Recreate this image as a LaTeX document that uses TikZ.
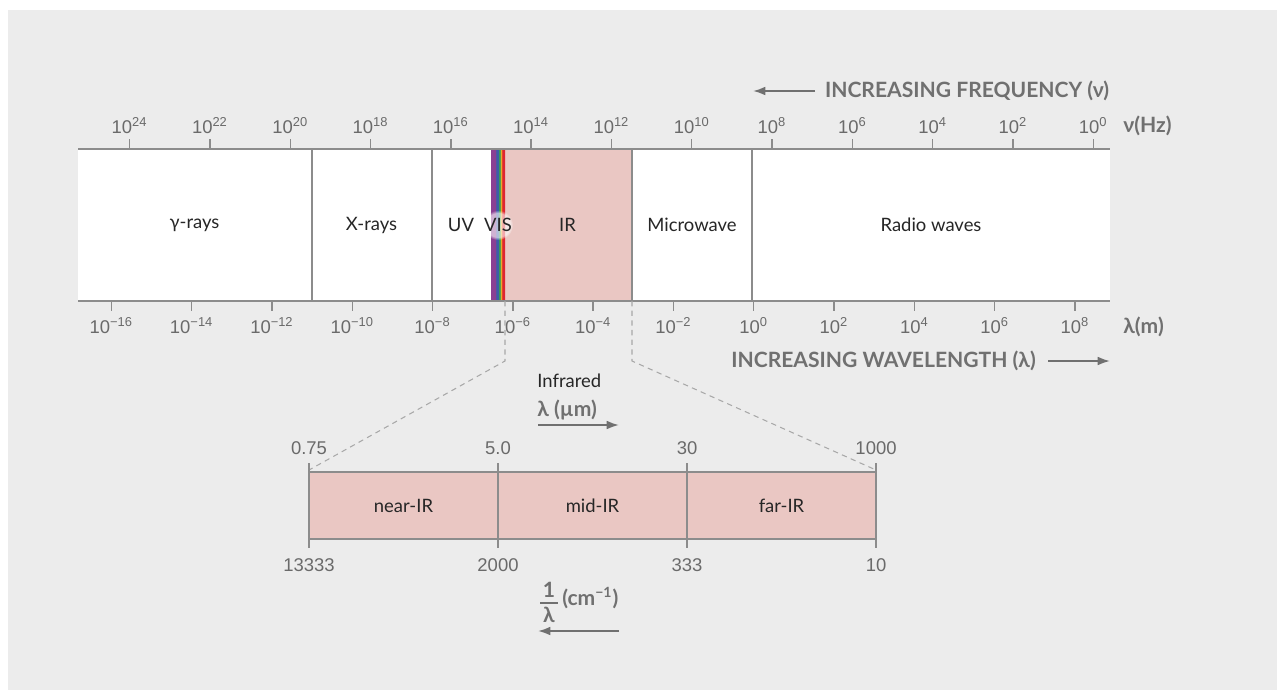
\documentclass[tikz,border=0pt]{standalone}
\usepackage{fontspec}
\setmainfont{Lato}
\newfontfamily\numfont{Liberation Sans}
\usetikzlibrary{arrows.meta,fadings}

\definecolor{bggray}{HTML}{ECECEC}
\definecolor{linegray}{HTML}{8C8C8C}
\definecolor{numgray}{HTML}{6A6A6A}
\definecolor{headgray}{HTML}{707070}
\definecolor{dashgray}{HTML}{A8A8A8}
\definecolor{txtdark}{HTML}{262626}
\definecolor{irpink}{HTML}{EAC7C3}
\definecolor{vispurple}{HTML}{8A3F93}
\definecolor{visblue}{HTML}{3C5CA8}
\definecolor{visgreen}{HTML}{3A9A55}
\definecolor{visyellow}{HTML}{EDC72C}
\definecolor{visorange}{HTML}{E8782C}
\definecolor{visred}{HTML}{DE2630}

\pgfdeclarehorizontalshading{visspec}{100bp}{color(0bp)=(vispurple); color(25bp)=(vispurple);
  color(38bp)=(vispurple); color(43bp)=(visblue); color(49bp)=(visblue); color(53bp)=(visgreen);
  color(56bp)=(visgreen); color(59bp)=(visyellow); color(62bp)=(visorange); color(65bp)=(visred);
  color(75bp)=(visred); color(100bp)=(visred)}

\newcommand{\pw}[1]{10\textsuperscript{#1}}

\tikzset{
  gline/.style={draw=linegray, line width=0.8pt},
  dline/.style={draw=dashgray, line width=0.6pt, dash pattern=on 3pt off 2.5pt},
  garrow/.style={draw=headgray, line width=1.1pt, -{Latex[length=7pt,width=5pt]}},
  numlbl/.style={font=\numfont\fontsize{10.5}{12}\selectfont, text=numgray, inner sep=0pt},
  bandlbl/.style={font=\fontsize{10.5}{12}\selectfont, text=txtdark, inner sep=0pt},
  headlbl/.style={font=\bfseries\fontsize{12}{14}\selectfont, text=headgray, inner sep=0pt},
}

\begin{document}
\begin{tikzpicture}[x=0.02cm,y=-0.02cm]
  \useasboundingbox (0,0) rectangle (1277,690);
  \fill[white] (0,0) rectangle (1277,690);
  \fill[bggray] (8,10) rectangle (1277,690);

  % spectrum band
  \fill[white] (78,149) rectangle (1110,301);
  \fill[irpink] (505,149) rectangle (632,301);
  \shade[shading=visspec] (491.5,149) rectangle (505,301);
  \foreach \x in {312,432,632,752}
    \draw[gline] (\x,149) -- (\x,301);
  \draw[gline] (78,149) -- (1110,149);
  \draw[gline] (78,301) -- (1110,301);

  % frequency scale
  \foreach \e [count=\i from 0] in {24,22,...,0} {
    \draw[gline] ({129.6+80.3*\i},139) -- ({129.6+80.3*\i},149);
    \node[numlbl] (f\i) at ({129.6+80.3*\i},126) {\pw{\e}};
  }
  \node[headlbl, anchor=west] (nuhz) at (1123,126) {ν(Hz)};

  % wavelength scale
  \foreach \e [count=\i from 0] in {−16,−14,−12,−10,−8,−6,−4,−2,0,2,4,6,8} {
    \draw[gline] ({111.3+80.3*\i},301) -- ({111.3+80.3*\i},311);
    \node[numlbl] (w\i) at ({111.3+80.3*\i},326) {\pw{\e}};
  }
  \node[headlbl, anchor=west] (lamm) at (1123,327) {λ(m)};

  % band names
  \fill[white, fill opacity=0.6, path fading=circle with fuzzy edge 20 percent] (498,225) circle (15);
  \node[bandlbl] (gam) at (194.5,225) {γ-rays};
  \node[bandlbl] (xray) at (371.5,225) {X-rays};
  \node[bandlbl] (uv) at (461,225) {UV};
  \node[bandlbl] (vis) at (498,225) {VIS};
  \node[bandlbl] (ir) at (567.5,225) {IR};
  \node[bandlbl] (micro) at (692,225) {Microwave};
  \node[bandlbl] (radio) at (931,225) {Radio waves};

  % direction headings
  \node[headlbl] (freq) at (967,91) {INCREASING FREQUENCY (ν)};
  \coordinate (fs) at (815,91);
  \coordinate (fe) at (753,91);
  \draw[garrow] (fs) -- (fe);
  \node[headlbl] (wave) at (883.5,361) {INCREASING WAVELENGTH (λ)};
  \coordinate (ws) at (1048,361);
  \coordinate (we) at (1110,361);
  \draw[garrow] (ws) -- (we);

  % zoom onto the infrared
  \coordinate (irl) at (505,301);
  \coordinate (irr) at (632,301);
  \coordinate (kl) at (505,361);
  \coordinate (kr) at (632,361);
  \coordinate (nl) at (309,470);
  \coordinate (nr) at (876,470);
  \draw[dline] (irl) -- (kl) -- (nl);
  \draw[dline] (irr) -- (kr) -- (nr);

  \node[bandlbl, anchor=west] (infra) at (537,381) {Infrared};
  \node[headlbl, anchor=west] (lamum) at (537,410) {λ (µm)};
  \coordinate (us) at (538,425);
  \coordinate (ue) at (619,425);
  \draw[garrow] (us) -- (ue);

  % infrared band
  \fill[irpink] (309,472) rectangle (876,539);
  \draw[gline] (309,472) -- (876,472);
  \draw[gline] (309,539) -- (876,539);
  \foreach \x/\top/\bot [count=\i] in {309/0.75/13333,498/5.0/2000,687/30/333,876/1000/10} {
    \draw[gline] (\x,463) -- (\x,548);
    \node[numlbl] (t\i) at (\x,448) {\top};
    \node[numlbl] (b\i) at (\x,565) {\bot};
  }
  \node[bandlbl] (near) at (403.5,505.5) {near-IR};
  \node[bandlbl] (mid) at (592.5,505.5) {mid-IR};
  \node[bandlbl] (far) at (781.5,505.5) {far-IR};

  % wavenumber
  \node[headlbl] (one) at (549,590) {1};
  \node[headlbl] (lam) at (549,615) {λ};
  \draw[headgray, line width=1.1pt] (540,603) -- (558,603);
  \node[headlbl, anchor=west] (cm) at (562,598) {(cm\textsuperscript{−1})};
  \coordinate (cs) at (619,631);
  \coordinate (ce) at (538,631);
  \draw[garrow] (cs) -- (ce);
\end{tikzpicture}
\end{document}
